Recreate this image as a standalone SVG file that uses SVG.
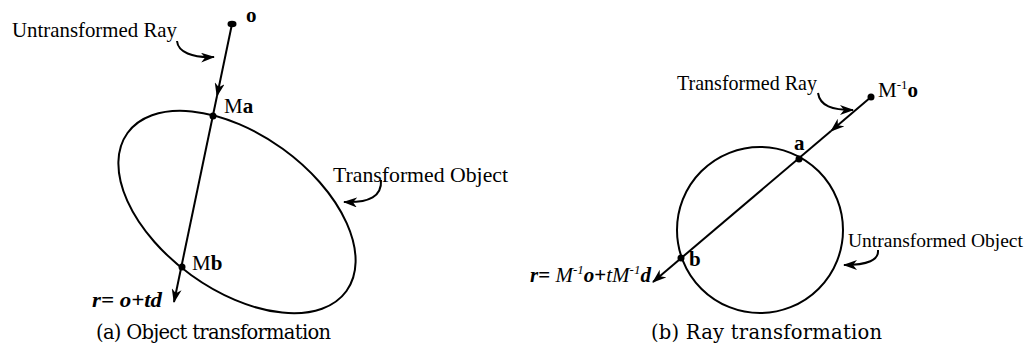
<svg xmlns="http://www.w3.org/2000/svg" width="1030" height="362" viewBox="0 0 1030 362">
<style>
.ln{fill:none;stroke:#000;stroke-width:2}
.lbl{font-family:"Liberation Serif",serif;font-size:21px;fill:#000}
.sm{font-size:19.5px}
.b{font-weight:bold}
.bi{font-weight:bold;font-style:italic}
.it{font-style:italic}
.cap{font-family:"DejaVu Serif","Liberation Serif",serif;font-size:19.5px;fill:#000}
</style>
<defs>
<marker id="ah" viewBox="0 0 14 10" refX="13" refY="5" markerWidth="14" markerHeight="10" markerUnits="userSpaceOnUse" orient="auto">
<path d="M0,0 L14,5 L0,10 L4,5 z" fill="#000"/>
</marker>
</defs>
<g id="connectors">
<path class="ln" d="M232,24 L217,96" marker-end="url(#ah)"/>
<path class="ln" d="M217,96 L174,302" marker-end="url(#ah)"/>
<path class="ln" d="M177,41 C178,52 192,58 214,57" marker-end="url(#ah)"/>
<path class="ln" d="M381,180 C382,196 370,203 344,202" marker-end="url(#ah)"/>
<path class="ln" d="M871,97 L831,131" marker-end="url(#ah)"/>
<path class="ln" d="M831,131 L653,282" marker-end="url(#ah)"/>
<path class="ln" d="M818,93 C820,106 832,110 853,110" marker-end="url(#ah)"/>
<path class="ln" d="M878,250 C879,260 868,265 844,265" marker-end="url(#ah)"/>
</g>
<g id="transformed-object">
<ellipse class="ln" cx="237" cy="212" rx="135" ry="78" transform="rotate(35.8 237 212)"/>
<text class="lbl" x="333" y="182" textLength="175" lengthAdjust="spacingAndGlyphs">Transformed Object</text>
</g>
<g id="untransformed-object">
<circle class="ln" cx="760" cy="230" r="83"/>
<text class="lbl sm" x="848" y="247">Untransformed Object</text>
</g>
<g id="point-o">
<ellipse cx="232" cy="24" rx="4.5" ry="3.2" fill="#000"/>
<text class="lbl b" x="246" y="22">o</text>
<text class="lbl" x="12" y="37" textLength="165" lengthAdjust="spacingAndGlyphs">Untransformed Ray</text>
</g>
<g id="point-Ma">
<circle cx="213" cy="116" r="3.5" fill="#000"/>
<text class="lbl" x="224" y="113">M<tspan class="b">a</tspan></text>
</g>
<g id="point-Mb">
<circle cx="182" cy="267" r="3.5" fill="#000"/>
<text class="lbl" x="192" y="270">M<tspan class="b">b</tspan></text>
<text class="lbl bi" x="92" y="307" textLength="70" lengthAdjust="spacingAndGlyphs">r= o+td</text>
</g>
<g id="point-Minv-o">
<circle cx="871" cy="97" r="3.5" fill="#000"/>
<text class="lbl" x="878" y="97">M<tspan font-size="13" dy="-8">-1</tspan><tspan class="b" dy="8">o</tspan></text>
<text class="lbl" x="677" y="90" textLength="140" lengthAdjust="spacingAndGlyphs">Transformed Ray</text>
</g>
<g id="point-a">
<circle cx="799" cy="159" r="3.5" fill="#000"/>
<text class="lbl b" x="794" y="150">a</text>
</g>
<g id="point-b">
<circle cx="681" cy="258" r="3.5" fill="#000"/>
<text class="lbl b" x="689" y="266">b</text>
<text class="lbl" x="530" y="282"><tspan class="bi">r</tspan><tspan class="b">= </tspan><tspan class="it">M</tspan><tspan class="it" font-size="13" dy="-8">-1</tspan><tspan class="bi" dy="8">o</tspan><tspan class="b">+</tspan><tspan class="it">tM</tspan><tspan class="it" font-size="13" dy="-8">-1</tspan><tspan class="bi" dy="8">d</tspan></text>
</g>
<g id="captions">
<text class="cap" x="96" y="339" textLength="235" lengthAdjust="spacing">(a) Object transformation</text>
<text class="cap" x="651" y="339" textLength="231" lengthAdjust="spacing">(b) Ray transformation</text>
</g>
</svg>
